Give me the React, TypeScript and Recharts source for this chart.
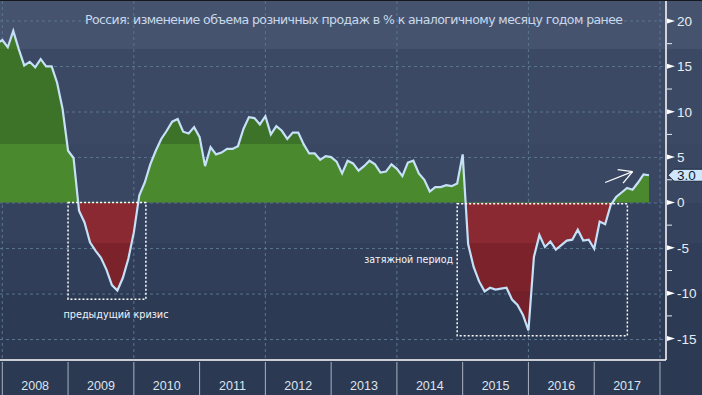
import { ComposedChart, Area, XAxis, YAxis, CartesianGrid, ReferenceLine, ReferenceArea } from 'recharts'

// Розничные продажи, % г/г, помесячно с дек. 2007 по окт. 2017
const retailYoY = [
  17.5,
  17.9, 17.1, 18.9, 16.9, 15.1, 15.5, 14.9, 15.8, 15.0, 15.0, 13.2, 10.3,
  5.7, 4.9, -0.9, -2.2, -4.4, -5.3, -6.1, -7.4, -9.1, -9.7, -8.3, -6.2,
  -3.3, 0.8, 2.2, 4.2, 5.7, 7.0, 7.9, 8.9, 9.2, 7.8, 7.6, 8.3,
  7.2, 4.0, 6.1, 5.3, 5.5, 5.9, 5.9, 6.2, 8.1, 9.4, 9.3, 8.6,
  9.5, 7.5, 8.4, 7.9, 7.0, 7.7, 7.7, 6.4, 5.4, 5.4, 4.7, 5.1,
  5.0, 4.5, 3.2, 4.6, 4.3, 3.5, 4.0, 4.6, 4.2, 3.3, 3.4, 4.2,
  3.7, 2.9, 4.4, 4.6, 3.2, 2.5, 1.2, 1.7, 1.7, 1.9, 1.8, 2.1,
  5.3, -4.6, -7.1, -8.7, -9.8, -9.4, -9.6, -9.5, -9.4, -10.7, -11.3, -12.4,
  -14.1, -6.0, -3.6, -4.9, -4.3, -5.2, -4.7, -4.2, -4.1, -3.0, -4.2, -4.1,
  -5.1, -2.1, -2.4, -0.3, 0.6, 1.1, 1.6, 1.4, 2.2, 3.1, 3.0,
]
const firstMonth = -1 // дек. 2007, месяц 0 = янв. 2008

const years = ['2008', '2009', '2010', '2011', '2012', '2013', '2014', '2015', '2016', '2017']
const yearBounds = [0, 12, 24, 36, 48, 60, 72, 84, 96, 108, 120]
const gridMonths = [0, 24, 48, 72, 96, 120]
const majorTicks = [-15, -10, -5, 0, 5, 10, 15, 20]
const minorTicks = [-12.5, -7.5, -2.5, 2.5, 7.5, 12.5, 17.5]

const title = 'Россия: изменение объема розничных продаж в % к аналогичному месяцу годом ранее'
const crisisBox = { x1: 12, x2: 26.2, y1: 0, y2: -10.66, label: 'предыдущий кризис' }
const longBox = { x1: 83, x2: 114.05, y1: -0.14, y2: -14.7, label: 'затяжной период' }
const trendArrow = [{ x: 110, y: 2.2 }, { x: 115, y: 3.4 }]

const data = retailYoY.map((v, k) => ({ m: k + firstMonth, v }))
const lastValue = retailYoY[retailYoY.length - 1]

const W = 702
const H = 395
const AXIS_W = 36
const AXIS_H = 35
const PLOT_W = W - AXIS_W
const PLOT_H = H - AXIS_H
const xDomain: [number, number] = [-0.42, 121.1]
const yDomain: [number, number] = [-17.36, 22.2]
const YEAR_PX = (PLOT_W / (xDomain[1] - xDomain[0])) * 12
const zeroY = (yDomain[1] / (yDomain[1] - yDomain[0])) * PLOT_H
const xPx = (m: number) => ((m - xDomain[0]) / (xDomain[1] - xDomain[0])) * PLOT_W
const yPx = (v: number) => ((yDomain[1] - v) / (yDomain[1] - yDomain[0])) * PLOT_H

const FONT = '"Liberation Sans", Arial, sans-serif'
const FONT2 = '"DejaVu Sans", Verdana, sans-serif'

function RightTick(props: any) {
  const { y, payload } = props
  const v = payload.value as number
  const x0 = PLOT_W + 1
  if (v === lastValue && !majorTicks.includes(v)) {
    return (
      <g>
        <path d={`M${x0 + 1},${y} L${x0 + 7},${y - 6} L${W + 2},${y - 6} L${W + 2},${y + 6} L${x0 + 7},${y + 6} Z`}
          fill="#cfe6fb" stroke="#1c2a3e" strokeWidth={1} />
        <text x={x0 + 10} y={y + 5} fontSize={13.5} fontFamily={FONT} fill="#101a26">{v.toFixed(1)}</text>
      </g>
    )
  }
  if (minorTicks.includes(v)) {
    return <line x1={x0} x2={x0 + 5} y1={y} y2={y} stroke="#e6edf5" strokeWidth={1} />
  }
  return (
    <g>
      <path d={`M${x0},${y - 2.5} L${x0 + 8},${y} L${x0},${y + 2.5} Z`} fill="#ffffff" />
      <text x={x0 + 10} y={y + 5} fontSize={13.5} fontFamily={FONT} fill="#e6edf5">{v}</text>
    </g>
  )
}

function YearTick(props: any) {
  const { x, payload } = props
  const idx = Math.round(payload.value / 12)
  return (
    <g>
      <line x1={x} x2={x} y1={PLOT_H + 1} y2={H} stroke="#a9b2c0" strokeWidth={1} />
      {idx < years.length && (
        <text x={x + YEAR_PX / 2} y={H - 6} textAnchor="middle" fontSize={12.5} fontFamily={FONT} fill="#dde5ee">
          {years[idx]}
        </text>
      )}
    </g>
  )
}

function ArrowShape(props: any) {
  const { x1, y1, x2, y2 } = props
  const ang = Math.atan2(y1 - y2, x1 - x2)
  const len = 15
  const a1 = ang + (29 * Math.PI) / 180
  const a2 = ang - (29 * Math.PI) / 180
  return (
    <g stroke="#ffffff" strokeWidth={1.3} fill="none">
      <line x1={x1} y1={y1} x2={x2} y2={y2} />
      <line x1={x2} y1={y2} x2={x2 + len * Math.cos(a1)} y2={y2 + len * Math.sin(a1)} />
      <line x1={x2} y1={y2} x2={x2 + len * Math.cos(a2)} y2={y2 + len * Math.sin(a2)} />
    </g>
  )
}

const bg = `linear-gradient(to bottom,
  #46536e 0px, #46536e 48px, #3c4965 48px, #3c4965 143px, #3a4762 143px, #3a4762 202px,
  #35425d 202px, #35425d 242px, #313e59 242px, #313e59 290px, #2d3a54 290px, #2d3a54 360px,
  #2c3953 360px, #2c3953 395px)`

export default function App() {
  return (
    <div style={{ position: 'fixed', left: 0, top: 0, width: W, height: H, background: bg, borderTop: '1px solid #15181f', boxSizing: 'border-box' }}>
      <ComposedChart width={W} height={H - 1} data={data} margin={{ top: 0, right: 0, bottom: 0, left: 0 }}>
        <defs>
          <linearGradient id="retailFill" x1="0" y1="0" x2="0" y2={PLOT_H} gradientUnits="userSpaceOnUse">
            <stop offset={0} stopColor="#427a2b" />
            <stop offset={48 / PLOT_H} stopColor="#427a2b" />
            <stop offset={48 / PLOT_H} stopColor="#3d7328" />
            <stop offset={143 / PLOT_H} stopColor="#3d7328" />
            <stop offset={143 / PLOT_H} stopColor="#4a892e" />
            <stop offset={zeroY / PLOT_H} stopColor="#4a892e" />
            <stop offset={zeroY / PLOT_H} stopColor="#8a2931" />
            <stop offset={242 / PLOT_H} stopColor="#8a2931" />
            <stop offset={242 / PLOT_H} stopColor="#7c222b" />
            <stop offset={290 / PLOT_H} stopColor="#7c222b" />
            <stop offset={290 / PLOT_H} stopColor="#74202a" />
            <stop offset={1} stopColor="#74202a" />
          </linearGradient>
        </defs>
        <CartesianGrid
          stroke="#5a7591"
          strokeDasharray="3 3"
          horizontalPoints={majorTicks.map(yPx)}
          verticalPoints={gridMonths.map(xPx)}
        />
        <XAxis
          type="number"
          dataKey="m"
          domain={xDomain}
          ticks={yearBounds}
          interval={0}
          allowDataOverflow
          height={AXIS_H}
          tickLine={false}
          axisLine={{ stroke: '#ffffff', strokeWidth: 1.5 }}
          tick={<YearTick />}
        />
        <YAxis
          type="number"
          orientation="right"
          width={AXIS_W}
          domain={yDomain}
          allowDataOverflow
          ticks={[...majorTicks, ...minorTicks, lastValue].sort((a, b) => a - b)}
          interval={0}
          tickLine={false}
          axisLine={{ stroke: '#ffffff', strokeWidth: 1.5 }}
          tick={<RightTick />}
        />
        <Area
          type="linear"
          dataKey="v"
          baseValue={0}
          stroke="#c6e0f7"
          strokeWidth={2.2}
          fill="url(#retailFill)"
          fillOpacity={1}
          dot={false}
          activeDot={false}
          isAnimationActive={false}
        />
        {[crisisBox, longBox].map((b, k) => (
          <ReferenceArea
            key={k}
            x1={b.x1}
            x2={b.x2}
            y1={b.y1}
            y2={b.y2}
            fill="none"
            stroke="#ffffff"
            strokeWidth={1.5}
            strokeDasharray="2 2"
            ifOverflow="visible"
            label={(p: any) => {
              const vb = p.viewBox
              return k === 0 ? (
                <text x={vb.x + vb.width / 2 + 9} y={vb.y + vb.height + 19} textAnchor="middle" textLength={105} lengthAdjust="spacingAndGlyphs"
                  fontSize={10.5} fontFamily={FONT2} fill="#f2f5f8">
                  {b.label}
                </text>
              ) : (
                <text x={vb.x - 4} y={vb.y + 59} textAnchor="end" textLength={89} lengthAdjust="spacingAndGlyphs"
                  fontSize={10.5} fontFamily={FONT2} fill="#f2f5f8">
                  {b.label}
                </text>
              )
            }}
          />
        ))}
        <ReferenceLine segment={trendArrow} ifOverflow="visible" shape={<ArrowShape />} />
        <text x={85} y={23} textLength={538} lengthAdjust="spacing" fontSize={12.5} fontFamily={FONT2} fill="#c9d8ea">
          {title}
        </text>
      </ComposedChart>
    </div>
  )
}
